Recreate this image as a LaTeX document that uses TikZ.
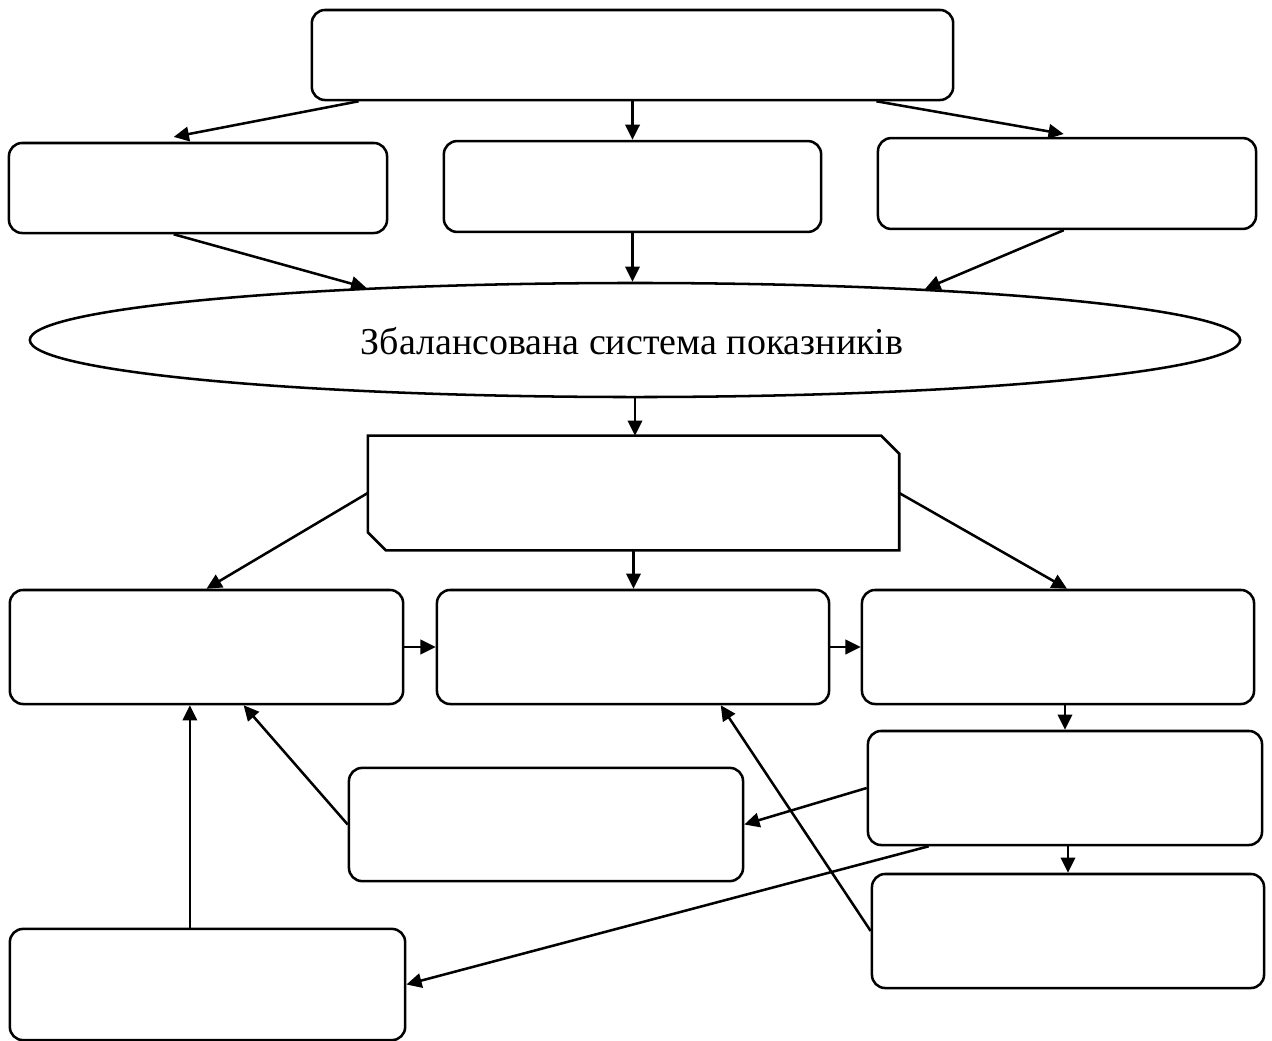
\documentclass[tikz,border=0pt]{standalone}
\usepackage{fontspec}
\setmainfont{Liberation Serif}
\usepackage{tikz}
\usetikzlibrary{arrows.meta,positioning,calc,shapes.geometric}

\begin{document}
\begin{tikzpicture}[x=0.025cm,y=-0.025cm,line width=1.8pt,
  box/.style={draw,rounded corners=0.33cm,inner sep=0pt},
  cutbox/.style={inner sep=0pt},
  oval/.style={draw,ellipse,inner sep=0pt},
  arr/.style={-{Triangle[length=0.38cm,width=0.36cm]}}]
\useasboundingbox (0,0) rectangle (1272,1041);
% upper part
\node[box,minimum width=16.03cm,minimum height=2.25cm] (top) at (632.5,55) {};
\node[box,minimum width=9.45cm,minimum height=2.25cm] (l2a) at (198,188) {};
\node[box,minimum width=9.43cm,minimum height=2.27cm] (l2b) at (632.5,186.5) {};
\node[box,minimum width=9.45cm,minimum height=2.27cm] (l2c) at (1067,183.5) {};
\node[oval,minimum width=30.25cm,minimum height=2.85cm] (bsc) at (635,340) {};
\node (bsctext) at (632,341) {\fontsize{27}{31}\selectfont Збалансована система показників};
\node[cutbox,minimum width=13.22cm,minimum height=2.8cm] (cut) at (633.5,493) {};
\draw (cut.north west) -- ([xshift=-0.45cm]cut.north east) -- ([yshift=-0.45cm]cut.north east)
  -- (cut.south east) -- ([xshift=0.45cm]cut.south west) -- ([yshift=0.45cm]cut.south west) -- cycle;
% lower part
\node[box,minimum width=9.83cm,minimum height=2.85cm] (r4a) at (206.5,647) {};
\node[box,minimum width=9.8cm,minimum height=2.85cm] (r4b) at (633,647) {};
\node[box,minimum width=9.8cm,minimum height=2.85cm] (r4c) at (1058,647) {};
\node[box,minimum width=9.85cm,minimum height=2.85cm] (rca) at (1065,788) {};
\node[box,minimum width=9.8cm,minimum height=2.85cm] (rcb) at (1068,931) {};
\node[box,minimum width=9.85cm,minimum height=2.83cm] (mid) at (546,824.5) {};
\node[box,minimum width=9.88cm,minimum height=2.78cm] (bot) at (207.5,984.5) {};
% arrows
\draw[arr] ([xshift=1.2cm]top.south west) -- ([xshift=4.15cm,yshift=0.12cm]l2a.north west);
\draw[arr] (top.south) -- (top.south |- l2b.north);
\draw[arr] ([xshift=-1.95cm]top.south east) -- ([xshift=4.675cm,yshift=0.07cm]l2c.north west);
\draw[arr] ([xshift=4.15cm]l2a.south west) -- (bsc.169.5);
\draw[arr] (l2b.south) -- (l2b.south |- bsc.north);
\draw[arr] ([xshift=4.675cm]l2c.south west) -- (bsc.10.1);
\draw[arr] (bsc.south) -- (bsc.south |- cut.north);
\draw[arr] (cut.west) -- (r4a.north);
\draw[arr] (cut.south) -- (cut.south |- r4b.north);
\draw[arr] (cut.east) -- ([xshift=0.225cm]r4c.north);
\draw[arr] (r4a.east) -- (r4b.west);
\draw[arr] (r4b.east) -- (r4c.west);
\draw[arr] (rca.north |- r4c.south) -- (rca.north);
\draw[arr] (rca.west) -- (mid.east);
\draw[arr] (rcb.north |- rca.south) -- (rcb.north);
\draw[arr] ([xshift=1.55cm]rca.south west) -- (bot.east);
\draw[arr] (rcb.west) -- ([xshift=7.125cm]r4b.south west);
\draw[arr] (mid.west) -- ([xshift=5.875cm]r4a.south west);
\draw[arr] ([xshift=-0.44cm]bot.north) -- ([xshift=-0.44cm]bot.north |- r4a.south);
\end{tikzpicture}
\end{document}
